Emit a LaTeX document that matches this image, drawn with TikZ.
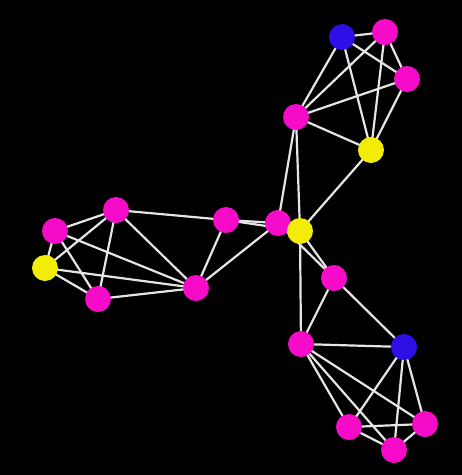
\documentclass[tikz,border=0pt]{standalone}
\definecolor{vpink}{RGB}{246,12,200}
\definecolor{vblue}{RGB}{44,16,230}
\definecolor{vyellow}{RGB}{242,236,6}
\pgfdeclarelayer{bg}
\pgfsetlayers{bg,main}
\begin{document}
\begin{tikzpicture}[x=1pt,y=-1pt,
  vertex/.style={circle,inner sep=0pt,minimum size=26pt},
  pink/.style={vertex,fill=vpink},
  blue/.style={vertex,fill=vblue},
  yel/.style={vertex,fill=vyellow},
  edge/.style={draw=black!10,line width=2.2pt}]
% top cluster
\node[blue] (b1) at (342,37) {};
\node[pink] (t1) at (385,32) {};
\node[pink] (t2) at (407,79) {};
\node[pink] (t3) at (296,117) {};
\node[yel] (y1) at (371,150) {};
% centre
\node[pink] (p0) at (278,223) {};
\node[yel] (y0) at (300,231) {};
% left cluster
\node[pink] (l1) at (116,210) {};
\node[pink] (l2) at (55,231) {};
\node[yel] (l3) at (45,268) {};
\node[pink] (l4) at (98,299) {};
\node[pink] (l5) at (196,288) {};
\node[pink] (m1) at (226,220) {};
% bottom cluster
\node[pink] (m2) at (334,278) {};
\node[blue] (b2) at (404,347) {};
\node[pink] (p1) at (301,344) {};
\node[pink] (q1) at (349,427) {};
\node[pink] (q2) at (394,450) {};
\node[pink] (q3) at (425,424) {};
\begin{pgfonlayer}{bg}
\fill[black] (0,0) rectangle (462,475);
\foreach \a/\b in {b1/t1,b1/t2,b1/t3,b1/y1,t1/t2,t1/t3,t1/y1,t2/t3,t2/y1,t3/y1,
  t3/p0,t3/y0,y1/y0,p0/y0,
  l1/l2,l1/l3,l1/l4,l1/l5,l1/m1,l2/l3,l2/l4,l2/l5,l3/l4,l3/l5,l4/l5,
  l5/m1,l5/p0,m1/p0,m1/y0,
  y0/m2,p0/m2,y0/p1,m2/p1,m2/b2,p1/b2,p1/q1,p1/q2,p1/q3,
  b2/q1,b2/q2,b2/q3,q1/q2,q1/q3,q2/q3}
  \draw[edge] (\a.center) -- (\b.center);
\end{pgfonlayer}
\end{tikzpicture}
\end{document}
